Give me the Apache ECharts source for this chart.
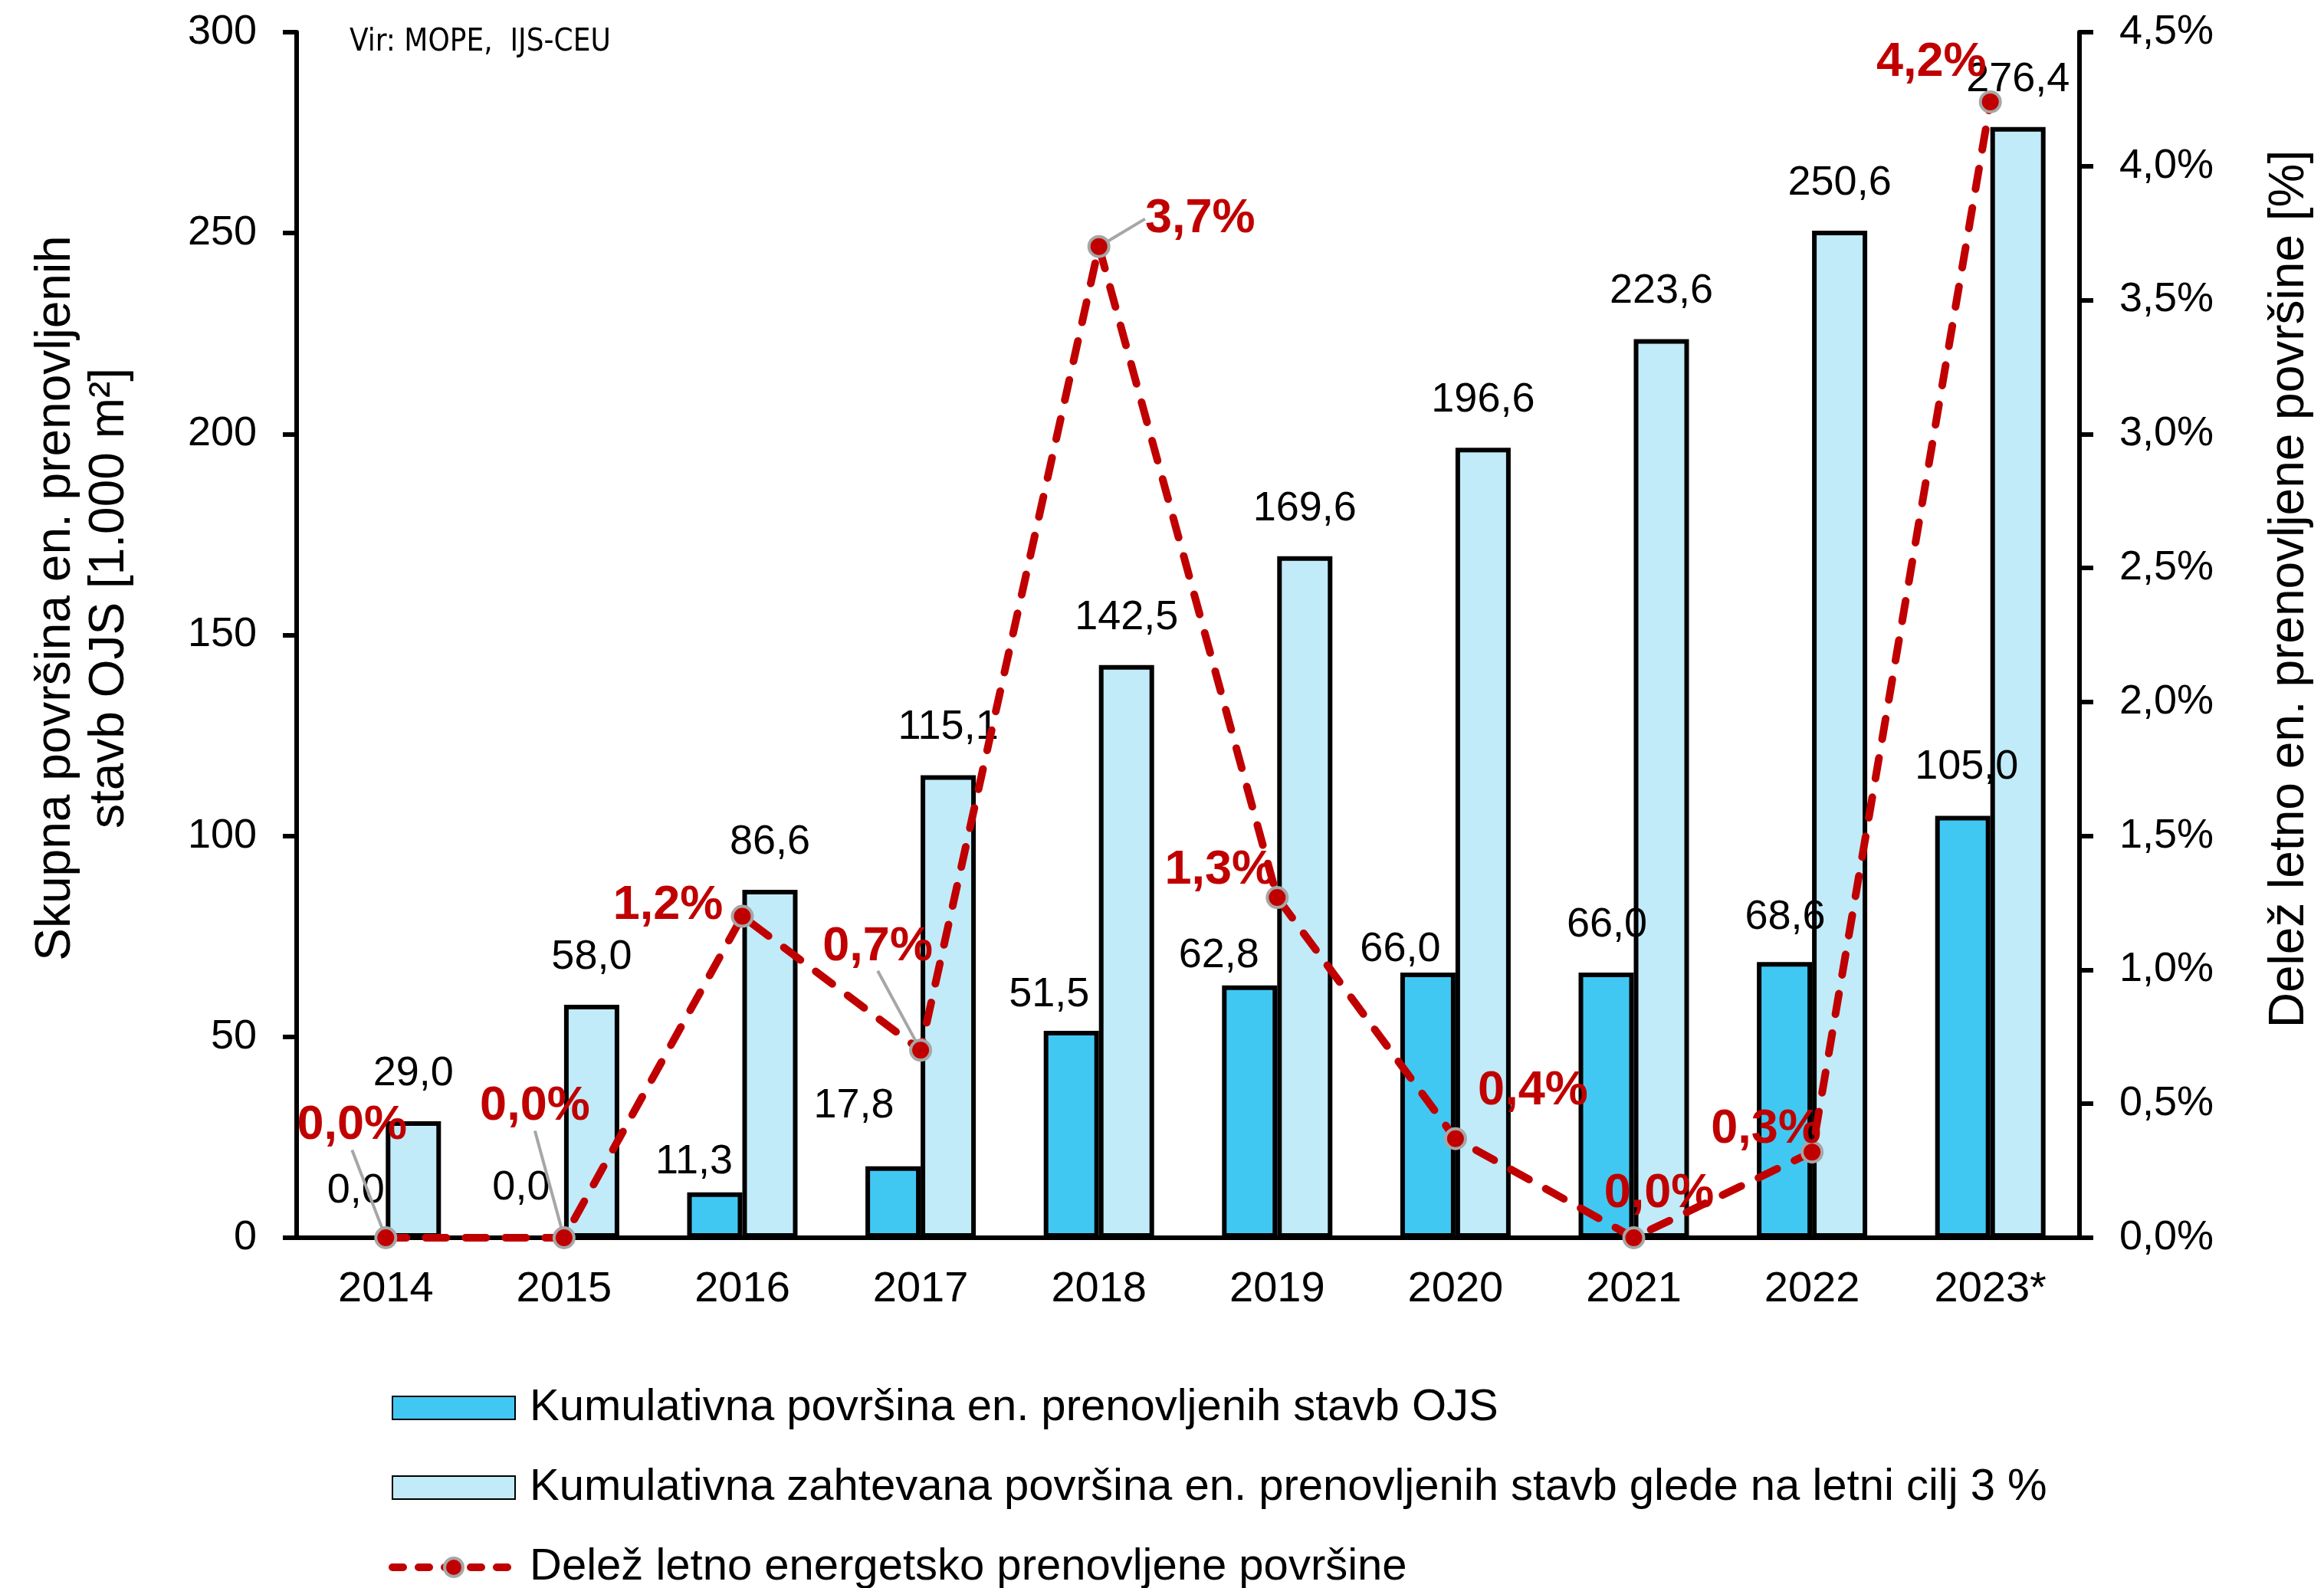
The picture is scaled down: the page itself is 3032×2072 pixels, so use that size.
<!DOCTYPE html>
<html>
<head>
<meta charset="utf-8">
<script src="https://cdn.jsdelivr.net/npm/echarts@6/dist/echarts.min.js"></script>
<style>
  html, body { margin: 0; padding: 0; background: #fff; }
  #chart { width: 3032px; height: 2072px; }
</style>
</head>
<body>
<div id="chart"></div>
<script>
// data
const years = ['2014', '2015', '2016', '2017', '2018', '2019', '2020', '2021', '2022', '2023*']
const renovatedArea = [0.0, 0.0, 11.3, 17.8, 51.5, 62.8, 66.0, 66.0, 68.6, 105.0]
const requiredArea = [29.0, 58.0, 86.6, 115.1, 142.5, 169.6, 196.6, 223.6, 250.6, 276.4]
const renovatedShare = [0.0, 0.0, 1.2, 0.7, 3.7, 1.27, 0.37, 0.0, 0.32, 4.24]
const areaTicks = [0, 50, 100, 150, 200, 250, 300]
const shareTicks = [0, 0.5, 1, 1.5, 2, 2.5, 3, 3.5, 4, 4.5]

const seriesNames = [
    'Kumulativna površina en. prenovljenih stavb OJS',
    'Kumulativna zahtevana površina en. prenovljenih stavb glede na letni cilj 3 %',
    'Delež letno energetsko prenovljene površine'
]

const FONT = '"Liberation Sans", Arial, sans-serif'
const comma = (v, d) => v.toFixed(d).replace('.', ',')

// hand placed labels, as in the original (offset of label centre from the mark)
const darkLabelNudge = [[-3, -58], [-20, -62], [-27, -40], [-51, -79], [-29, -47],
    [-40, -39], [-36, -30], [1, -62], [1, -58], [5, -63]]
const shareLabelNudge = [[-44, -146], [-38, -171], [-97, -14], [-56, -135], [132, -36],
    [-75, -35], [101, -62], [33, -57], [-60, -30], [-77, -51]]
const withLeader = [0, 1, 3, 4]

const chart = echarts.init(document.getElementById('chart'))

const axisLineStyle = { color: '#000', width: 6 }

const option = {
    animation: false,
    backgroundColor: '#fff',
    textStyle: { fontFamily: FONT },
    grid: { left: 387, right: 319, top: 42, bottom: 457 },
    legend: {
        orient: 'vertical',
        left: 507,
        top: 1808,
        height: 400,
        padding: 0,
        itemWidth: 160,
        itemHeight: 30,
        itemGap: 46,
        textStyle: { fontSize: 58, color: '#000', fontFamily: FONT, lineHeight: 58, padding: [0, 0, 0, 14] },
        data: [
            { name: seriesNames[0], icon: 'rect' },
            { name: seriesNames[1], icon: 'rect' },
            {
                name: seriesNames[2],
                lineStyle: { color: '#C00000', width: 10, type: [14, 20], cap: 'round' },
                itemStyle: { color: '#C00000', borderColor: '#A6A6A6', borderWidth: 4 }
            }
        ]
    },
    xAxis: {
        type: 'category',
        data: years,
        axisLine: { lineStyle: axisLineStyle },
        axisTick: { show: false },
        axisLabel: { fontSize: 56, color: '#000', margin: 40 },
        splitLine: { show: false }
    },
    yAxis: [{
        type: 'value',
        min: areaTicks[0],
        max: areaTicks[areaTicks.length - 1],
        interval: areaTicks[1] - areaTicks[0],
        name: 'Skupna površina en. prenovljenih\nstavb OJS [1.000 m²]',
        nameLocation: 'middle',
        nameGap: 209,
        nameRotate: 90,
        nameTextStyle: { fontSize: 64, color: '#000', lineHeight: 70, padding: [0, 0, 0, 96] },
        axisLine: { show: true, lineStyle: axisLineStyle },
        axisTick: { show: true, length: 18, lineStyle: axisLineStyle },
        axisLabel: { fontSize: 54, color: '#000', margin: 52 },
        splitLine: { show: false }
    }, {
        type: 'value',
        position: 'right',
        min: shareTicks[0],
        max: shareTicks[shareTicks.length - 1],
        interval: shareTicks[1] - shareTicks[0],
        name: 'Delež letno en. prenovljene površine [%]',
        nameLocation: 'middle',
        nameGap: 242,
        nameRotate: 90,
        nameTextStyle: { fontSize: 64, color: '#000', padding: [0, 0, 0, 120] },
        axisLine: { show: true, lineStyle: axisLineStyle },
        axisTick: { show: true, length: 18, lineStyle: axisLineStyle },
        axisLabel: {
            fontSize: 54, color: '#000', margin: 52,
            formatter: v => comma(v, 1) + '%'
        },
        splitLine: { show: false }
    }],
    graphic: [{
        type: 'text',
        left: 456,
        top: 36,
        style: {
            text: 'Vir: MOPE,  IJS-CEU',
            font: '40px "DejaVu Sans Condensed", "Liberation Sans Narrow", sans-serif',
            fill: '#000'
        }
    }],
    series: [{
        name: seriesNames[0],
        type: 'bar',
        data: renovatedArea,
        barWidth: 72,
        barGap: '0%',
        itemStyle: { color: '#41C8F2', borderColor: '#000', borderWidth: 6 },
        label: {
            show: true,
            fontSize: 54,
            color: '#000',
            formatter: p => comma(p.value, 1)
        },
        labelLayout: p => {
            const n = darkLabelNudge[p.dataIndex]
            return {
                x: p.rect.x + p.rect.width / 2 + n[0],
                y: p.rect.y + n[1],
                align: 'center',
                verticalAlign: 'middle'
            }
        }
    }, {
        name: seriesNames[1],
        type: 'bar',
        data: requiredArea,
        barWidth: 72,
        itemStyle: { color: '#C1EBF8', borderColor: '#000', borderWidth: 6 },
        label: {
            show: true,
            fontSize: 54,
            color: '#000',
            formatter: p => comma(p.value, 1)
        },
        labelLayout: p => ({
            x: p.rect.x + p.rect.width / 2,
            y: p.rect.y - 62,
            align: 'center',
            verticalAlign: 'middle'
        })
    }, {
        name: seriesNames[2],
        type: 'line',
        yAxisIndex: 1,
        data: renovatedShare.map((v, i) => ({
            value: v,
            labelLine: { show: withLeader.includes(i) }
        })),
        z: 5,
        symbol: 'circle',
        symbolSize: 26,
        lineStyle: { color: '#C00000', width: 10, type: [27, 25], cap: 'round' },
        itemStyle: { color: '#C00000', borderColor: '#A6A6A6', borderWidth: 4 },
        label: {
            show: true,
            fontSize: 63,
            fontWeight: 'bold',
            color: '#C00000',
            formatter: p => comma(p.value, 1) + '%'
        },
        labelLine: { show: false, lineStyle: { color: '#A6A6A6', width: 4 } },
        labelLayout: p => {
            const n = shareLabelNudge[p.dataIndex]
            return {
                x: p.rect.x + p.rect.width / 2 + n[0],
                y: p.rect.y + p.rect.height / 2 + n[1],
                align: 'center',
                verticalAlign: 'middle'
            }
        }
    }]
}

chart.setOption(option)
</script>
</body>
</html>
